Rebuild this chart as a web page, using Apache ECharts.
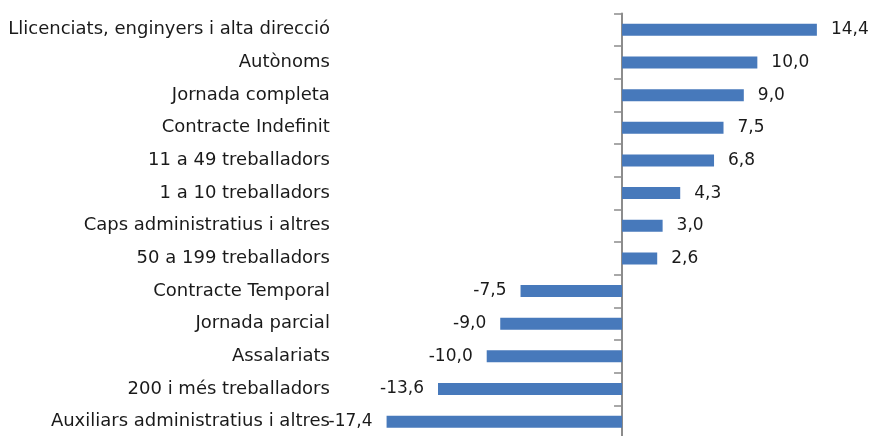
<!DOCTYPE html>
<html>
<head>
<meta charset="utf-8">
<script src="https://cdn.jsdelivr.net/npm/echarts@6/dist/echarts.min.js"></script>
<style>
  html, body { margin: 0; padding: 0; background: #fff; }
  #chart { width: 873px; height: 436px; }
</style>
</head>
<body>
<div id="chart"></div>
<script>
// Categories, top to bottom
const categories = [
  'Llicenciats, enginyers i alta direcció',
  'Autònoms',
  'Jornada completa',
  'Contracte Indefinit',
  '11 a 49 treballadors',
  '1 a 10 treballadors',
  'Caps administratius i altres',
  '50 a 199 treballadors',
  'Contracte Temporal',
  'Jornada parcial',
  'Assalariats',
  '200 i més treballadors',
  'Auxiliars administratius i altres'
];

// Change for each group
const values = [14.4, 10.0, 9.0, 7.5, 6.8, 4.3, 3.0, 2.6, -7.5, -9.0, -10.0, -13.6, -17.4];

const FONT = 'DejaVu Sans';
const fmt = v => v.toFixed(1).replace('.', ',');

const chart = echarts.init(document.getElementById('chart'));
chart.setOption({
  animation: false,
  grid: { left: 351.4, width: 473.6, top: 13.5, height: 424.5, outerBoundsMode: 'none', containLabel: false },
  xAxis: {
    type: 'value',
    min: -20,
    max: 15,
    show: false,
    splitLine: { show: false }
  },
  yAxis: {
    type: 'category',
    data: categories,
    inverse: true,
    axisLine: { onZero: true, lineStyle: { color: '#8c8c8c', width: 2 } },
    axisTick: { show: true, inside: false, length: 8, lineStyle: { color: '#8c8c8c', width: 1.5 } },
    axisLabel: {
      margin: 21.5,
      color: '#1a1a1a',
      fontFamily: FONT,
      fontSize: 18,
      padding: [4, 0, 0, 0]
    },
    splitLine: { show: false }
  },
  series: [{
    type: 'bar',
    data: values.map(v => ({
      value: v,
      label: { position: v >= 0 ? 'right' : 'left' }
    })),
    barWidth: 12,
    itemStyle: { color: '#4779bb' },
    label: {
      show: true,
      distance: 14,
      color: '#1a1a1a',
      fontFamily: FONT,
      fontSize: 17,
      padding: [3, 0, 0, 0],
      formatter: p => fmt(p.value)
    }
  }]
});
</script>
</body>
</html>
